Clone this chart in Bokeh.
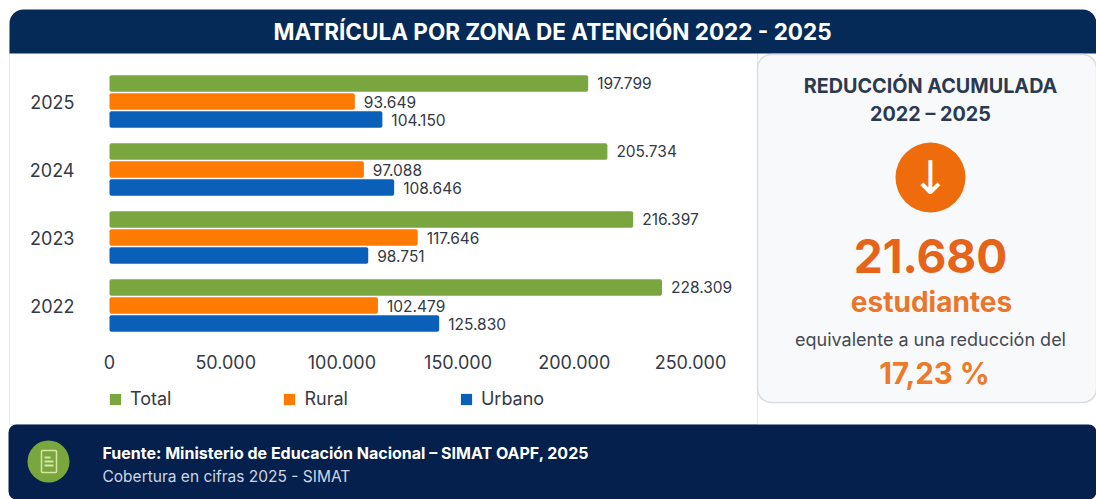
from bokeh.plotting import figure
from bokeh.models import (ColumnDataSource, FixedTicker, Legend, LegendItem, LinearAxis, Range1d)
from bokeh.core.properties import value
from bokeh.transform import dodge
from bokeh.embed import file_html
from bokeh.resources import INLINE

years = [2022, 2023, 2024, 2025]
total = [228309, 216397, 205734, 197799]
rural = [102479, 117646, 97088, 93649]
urbano = [125830, 98751, 108646, 104150]
ticks = [0, 50000, 100000, 150000, 200000, 250000]
tick_labels = ["0", "50.000", "100.000", "150.000", "200.000", "250.000"]

def es(v):
    return f"{v:,}".replace(",", ".")

FONT = "Inter"
NAVY = "#062a57"
NAVY2 = "#05204c"
GREEN = "#7aa640"
ORANGE = "#ff7a00"
BLUE = "#0a5fb8"
DARK = "#333a45"
W, H = 1096, 499
X0 = 109            # canvas x of value 0
Y25, DY = 101, 68   # canvas y of the 2025 group, px per year

def xr(scale):
    return Range1d(-X0 / scale, (W - X0) / scale)

src = ColumnDataSource(dict(
    year=years, total=total, rural=rural, urbano=urbano,
    total_l=[es(v) for v in total], rural_l=[es(v) for v in rural], urbano_l=[es(v) for v in urbano],
    zero=[0] * 4))

p = figure(width=W, height=H, output_backend="svg", toolbar_location=None,
           x_range=Range1d(0, W), y_range=Range1d(H, 0),
           x_axis_location=None, y_axis_location=None, min_border=0, outline_line_color=None,
           border_fill_color="white")
p.grid.visible = False
p.extra_x_ranges = {"axis": xr(0.002324), "total": xr(0.00242), "parts": xr(0.00262)}
p.extra_y_ranges = {"years": Range1d(2025 - (H - Y25) / DY, 2025 + Y25 / DY)}

def box(x0, y0, x1, y1, fill, line=None, radius=0, lw=1):
    p.quad(left=[x0], right=[x1], top=[y0], bottom=[y1], fill_color=fill, fill_alpha=1 if fill else 0,
           line_color=line, line_alpha=1 if line else 0, line_width=lw, border_radius=radius)

def txt(x, y, s, size, color, bold=False, align="center", font=FONT):
    p.text(x=[x], y=[y], text=[s], text_font=value(font), text_font_size=f"{size}px", text_color=color,
           text_font_style="bold" if bold else "normal", text_align=align, text_baseline="middle")

# panels
box(9, 40, 757, 424, "white", "#e3e6ea")
box(9, 9, 1096, 53, NAVY, None, (14, 14, 0, 0))
box(757, 54, 1096, 402, "#f8f9fb", "#d9dde2", 14, 1.5)
box(8, 424, 1096, 499, NAVY2, None, 8)

# bars
H_BAR = 0.245
series = [("total", "Total", GREEN, 0.265), ("rural", "Rural", ORANGE, 0.0), ("urbano", "Urbano", BLUE, -0.265)]
items = []
for col, name, color, off in series:
    rng = "total" if col == "total" else "parts"
    r = p.hbar(y=dodge("year", off), right=col, left="zero", height=H_BAR, source=src,
               x_range_name=rng, y_range_name="years", fill_color=color, line_color=None, border_radius=2)
    p.text(x=col, y=dodge("year", off), text=col + "_l", source=src, x_range_name=rng, y_range_name="years",
           x_offset=9, text_baseline="middle", text_align="left", text_color=DARK,
           text_font=value(FONT), text_font_size="15.5px")
    items.append(LegendItem(label=name, renderers=[r]))

# axes
xa = LinearAxis(x_range_name="axis", fixed_location=334, ticker=FixedTicker(ticks=ticks),
                major_label_overrides=dict(zip(ticks, tick_labels)),
                axis_line_color=None, major_tick_line_color=None, minor_tick_line_color=None,
                major_label_text_font=FONT, major_label_text_font_size="18px",
                major_label_text_color=DARK, major_label_standoff=14)
p.add_layout(xa, "below")
ya = LinearAxis(y_range_name="years", fixed_location=X0, ticker=FixedTicker(ticks=years),
                major_label_overrides={y: str(y) for y in years},
                axis_line_color=None, major_tick_line_color=None, minor_tick_line_color=None,
                major_label_text_font=FONT, major_label_text_font_size="18px",
                major_label_text_color=DARK, major_label_standoff=29)
p.add_layout(ya, "left")

legend = Legend(items=items, orientation="horizontal", location=(108, H - 409), spacing=111, padding=0, margin=0,
                glyph_width=14, glyph_height=14, label_standoff=8, background_fill_alpha=0, border_line_color=None,
                label_text_font=FONT, label_text_font_size="18px", label_text_color=DARK)
p.add_layout(legend, "center")

# texts
txt(552, 31, "MATRÍCULA POR ZONA DE ATENCIÓN 2022 - 2025", 22.5, "white", True)
txt(930, 85, "REDUCCIÓN ACUMULADA", 19.8, "#2c3a50", True)
txt(930, 113, "2022 – 2025", 19.8, "#2c3a50", True)
p.circle(x=[930], y=[177], radius=35, fill_color="#ee6c0c", line_color=None)
txt(930, 177, "↓", 46, "white", False, font="DejaVu Sans")
txt(930, 255, "21.680", 46, "#e5641a", True)
txt(931, 301, "estudiantes", 28, "#e9762b", True)
txt(930, 339, "equivalente a una reducción del", 18, "#454a52")
txt(934, 372, "17,23 %", 29.5, "#ec7a28", True)

# footer
p.circle(x=[48], y=[461], radius=21, fill_color=GREEN, line_color=None)
box(41, 450, 56, 472, None, "#d6e8a0", 1, 1.5)
box(44, 456, 50, 458, "#d6e8a0")
box(44, 460, 53, 462, "#d6e8a0")
box(44, 464, 53, 466, "#d6e8a0")
txt(102, 452, "Fuente: Ministerio de Educación Nacional – SIMAT OAPF, 2025", 16, "white", True, "left")
txt(102, 476, "Cobertura en cifras 2025 - SIMAT", 15.5, "#cfd6e2", False, "left")

open("out.html", "w").write(file_html(p, INLINE))
